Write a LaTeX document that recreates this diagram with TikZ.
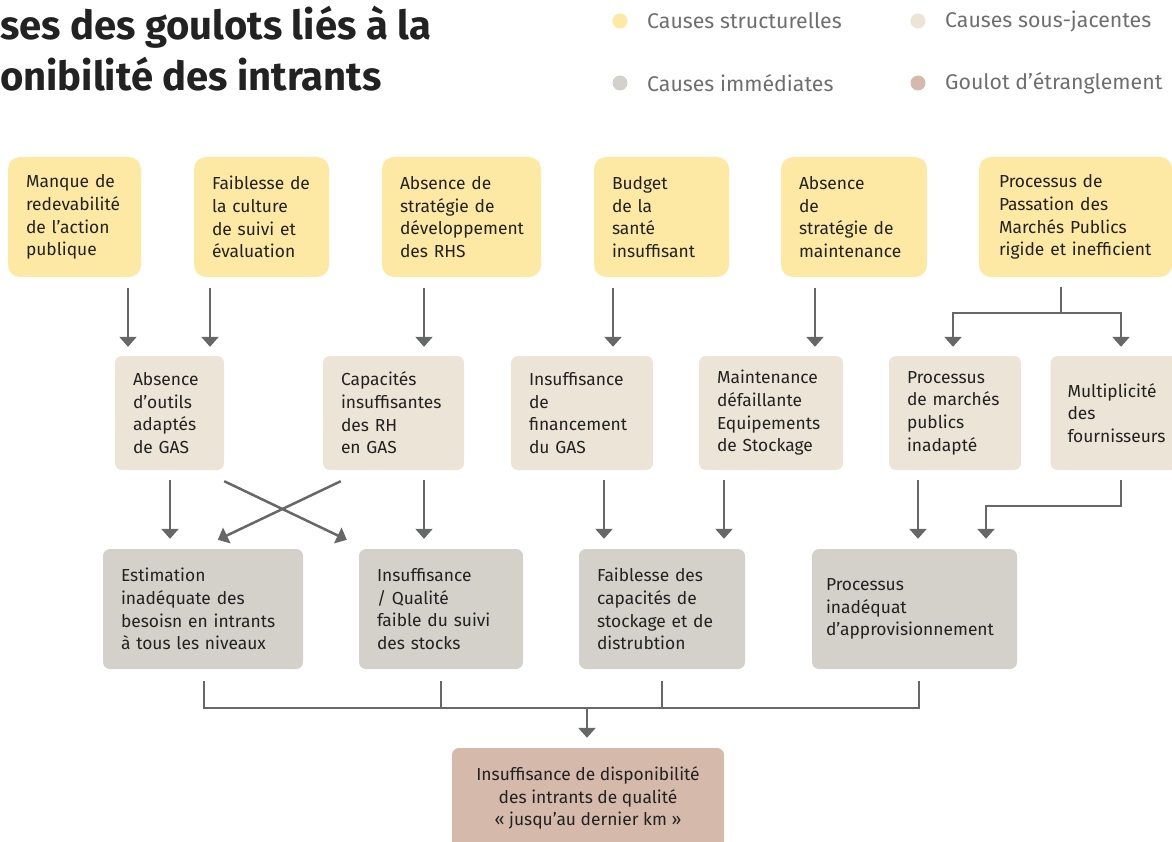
\documentclass[tikz,border=0pt]{standalone}
\usepackage{fontspec}
\setmainfont{Fira Sans}
\usetikzlibrary{arrows.meta}
\definecolor{cstruct}{HTML}{FDE9A3}
\definecolor{csous}{HTML}{ECE4D6}
\definecolor{cimm}{HTML}{D4D0CA}
\definecolor{cgoul}{HTML}{D5B9AA}
\definecolor{cline}{HTML}{666767}
\definecolor{ctext}{HTML}{222222}
\definecolor{clegend}{HTML}{6E6E6E}
\begin{document}
\begin{tikzpicture}[x=1pt,y=-1pt,
  boxtxt/.style={rectangle, inner xsep=18pt, inner ysep=0pt, align=left, text=ctext,
    font=\fontsize{17.4}{22.7}\selectfont},
  structbox/.style={boxtxt, fill=cstruct, rounded corners=12pt, minimum height=120pt},
  sousbox/.style={boxtxt, fill=csous, rounded corners=7pt, minimum height=114pt},
  immbox/.style={boxtxt, fill=cimm, rounded corners=7pt, minimum height=120pt},
  goulbox/.style={boxtxt, fill=cgoul, rounded corners=7pt, align=center, minimum width=272pt, minimum height=100pt},
  conn/.style={draw=cline, line width=2.5pt},
  arr/.style={conn, -{Triangle[width=17pt,length=10pt]}},
  legdot/.style={circle, fill=#1, minimum size=15pt, inner sep=0pt},
  legtxt/.style={anchor=west, text=clegend, font=\fontsize{21.3}{26}\selectfont, inner sep=0pt},
  titletxt/.style={anchor=base west, inner sep=0pt, text=ctext, font=\fontsize{40}{48}\selectfont\bfseries}
]
\useasboundingbox (0,0) rectangle (1172,842);
\clip (0,0) rectangle (1172,842);

% title
\node[titletxt] (title1) at (0,40) {ses des goulots liés à la};
\node[titletxt] (title2) at (0,91) {onibilité des intrants};

% legend
\node[legdot=cstruct] (d1) at (620,21) {};
\node[legtxt] (l1) at (647,21) {Causes structurelles};
\node[legdot=csous] (d2) at (918,21) {};
\node[legtxt] (l2) at (945,21) {Causes sous-jacentes};
\node[legdot=cimm] (d3) at (620,83) {};
\node[legtxt] (l3) at (647,83) {Causes immédiates};
\node[legdot=cgoul] (d4) at (918,83) {};
\node[legtxt] (l4) at (945,83) {Goulot d’étranglement};

% structural causes
\node[structbox, text width=97pt] (t1) at (74.5,217) {Manque de\\redevabilité\\de l’action\\publique};
\node[structbox, text width=99pt] (t2) at (261.5,217) {Faiblesse de\\la culture\\de suivi et\\évaluation};
\node[structbox, text width=123pt] (t3) at (461.5,217) {Absence de\\stratégie de\\développement\\des RHS};
\node[structbox, text width=99pt] (t4) at (661.5,217) {Budget\\de la\\santé\\insuffisant};
\node[structbox, text width=110pt] (t5) at (854,217) {Absence\\de\\stratégie de\\maintenance};
\node[structbox, text width=153pt, inner xsep=20pt] (t6) at (1075.5,217) {Processus de\\Passation des\\Marchés Publics\\rigide et inefficient};

% underlying causes
\node[sousbox, text width=73pt] (m1) at (169.5,413) {Absence\\d’outils\\adaptés\\de GAS};
\node[sousbox, text width=105pt] (m2) at (393.5,413) {Capacités\\insuffisantes\\des RH\\en GAS};
\node[sousbox, text width=106pt] (m3) at (582,413) {Insuffisance\\de\\financement\\du GAS};
\node[sousbox, text width=108pt] (m4) at (771,413) {Maintenance\\défaillante\\Equipements\\de Stockage};
\node[sousbox, text width=96pt] (m5) at (955,413) {Processus\\de marchés\\publics\\inadapté};
\node[sousbox, text width=105pt, inner xsep=17pt] (m6) at (1120,413) {Multiplicité\\des\\fournisseurs};

% immediate causes
\node[immbox, text width=164pt] (b1) at (203,609) {Estimation\\inadéquate des\\besoisn en intrants\\à tous les niveaux};
\node[immbox, text width=128pt] (b2) at (441,609) {Insuffisance\\/ Qualité\\faible du suivi\\des stocks};
\node[immbox, text width=130pt] (b3) at (662,609) {Faiblesse des\\capacités de\\stockage et de\\distrubtion};
\node[immbox, inner xsep=14pt, text width=177pt] (b4) at (914.5,609) {Processus\\inadéquat\\d’approvisionnement};

% bottleneck
\node[goulbox] (fin) at (588,798) {Insuffisance de disponibilité\\des intrants de qualité\\« jusqu’au dernier km »};

% arrows top -> middle
\draw[arr, shorten <=11pt, shorten >=9pt] (128,0 |- t1.south) -- (128,0 |- m1.north);
\draw[arr, shorten <=11pt, shorten >=9pt] (210,0 |- t2.south) -- (210,0 |- m1.north);
\draw[arr, shorten <=11pt, shorten >=9pt] (424,0 |- t3.south) -- (424,0 |- m2.north);
\draw[arr, shorten <=11pt, shorten >=9pt] (613,0 |- t4.south) -- (613,0 |- m3.north);
\draw[arr, shorten <=11pt, shorten >=9pt] (815,0 |- t5.south) -- (815,0 |- m4.north);
\coordinate (sp) at (1061,313);
\draw[conn, shorten <=10pt] (sp |- t6.south) -- (sp);
\draw[arr, shorten >=9pt] (sp) -| (953,0 |- m5.north);
\draw[arr, shorten >=9pt] (sp) -| (1121,0 |- m6.north);

% arrows middle -> bottom
\draw[arr, shorten <=10pt, shorten >=10pt] (170,0 |- m1.south) -- (170,0 |- b1.north);
\draw[arr] ([shift={(0,11)}]m1.south east) -- ([shift={(-12,-9)}]b2.north west);
\draw[arr] ([shift={(18,11)}]m2.south west) -- ([shift={(115,-9)}]b1.north west);
\draw[arr, shorten <=10pt, shorten >=10pt] (424,0 |- m2.south) -- (424,0 |- b2.north);
\draw[arr, shorten <=10pt, shorten >=10pt] (604,0 |- m3.south) -- (604,0 |- b3.north);
\draw[arr, shorten <=10pt, shorten >=10pt] (724,0 |- m4.south) -- (724,0 |- b3.north);
\draw[arr, shorten <=10pt, shorten >=10pt] (918,0 |- m5.south) -- (918,0 |- b4.north);
\coordinate (mk) at (1121,506);
\draw[arr, shorten <=10pt, shorten >=10pt] (mk |- m6.south) -- (mk) -- (986,506) -- (986,0 |- b4.north);

% bus to bottleneck
\coordinate (bus) at (587,708);
\draw[conn, shorten <=12pt] (204,0 |- b1.south) |- (bus);
\draw[conn, shorten <=12pt] (919,0 |- b4.south) |- (bus);
\draw[conn, shorten <=12pt] (441,0 |- b2.south) -- (441,0 |- bus);
\draw[conn, shorten <=12pt] (662,0 |- b3.south) -- (662,0 |- bus);
\draw[arr, shorten >=10pt] (bus) -- (bus |- fin.north);
\end{tikzpicture}
\end{document}
